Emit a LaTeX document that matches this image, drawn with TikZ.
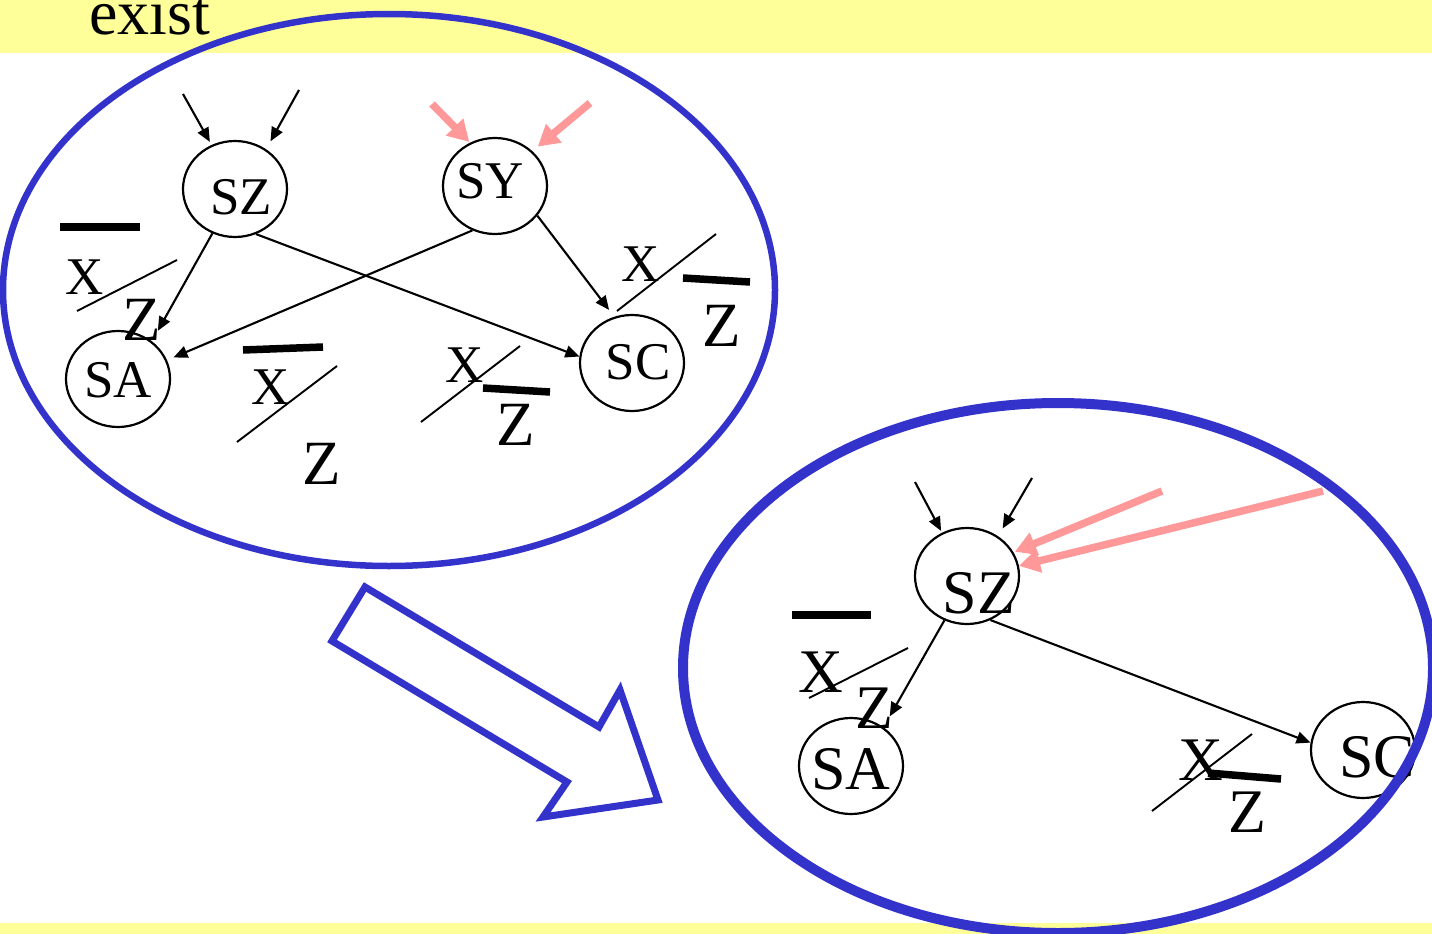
\documentclass[tikz,border=0pt]{standalone}
\usepackage{fontspec}
\setmainfont{Liberation Serif}
\usetikzlibrary{arrows.meta,shapes.geometric}
\definecolor{bandyellow}{HTML}{FFFF99}
\definecolor{ellblue}{HTML}{3333CC}
\definecolor{pinkred}{HTML}{FF9999}
\tikzset{
  circ/.style={draw, ellipse, minimum width=104pt, minimum height=96pt, line width=2.2pt, inner sep=0pt},
  lblA/.style={inner sep=0pt, font=\fontsize{53}{53}\selectfont},
  lblZ/.style={inner sep=0pt, font=\fontsize{63}{63}\selectfont},
  lblB/.style={inner sep=0pt, font=\fontsize{62}{62}\selectfont},
  conn/.style={line width=2.1pt, -{Triangle[length=14pt,width=12pt]}},
  redarr/.style={draw=pinkred, line width=7.5pt, -{Triangle[length=21pt,width=23pt]}},
  slashline/.style={line width=1.9pt},
  obar/.style={line width=7.5pt},
  bigell/.style={draw=ellblue},
}
\begin{document}
\begin{tikzpicture}[x=1pt,y=-1pt]
\useasboundingbox (0,0) rectangle (1432,934);
\fill[white] (0,0) rectangle (1432,934);
% yellow bands
\fill[bandyellow] (0,0) rectangle (1432,53);
\fill[bandyellow] (0,923) rectangle (1432,934);
\node[anchor=base west, inner sep=0pt, font=\fontsize{64}{64}\selectfont] (exist) at (89,35) {exist};

% ---------- first ellipse contents ----------
\node[circ] (sz1) at (235,189) {};
\node[circ] (sy1) at (495,186) {};
\node[circ] (sa1) at (118,379) {};
\node[circ] (sc1) at (632,363) {};
\node[lblA] (tsz1) at (241,197) {SZ};
\node[lblA] (tsy1) at (490,181) {SY};
\node[lblA] (tsa1) at (118,380) {SA};
\node[lblA] (tsc1) at (638,362) {SC};

\coordinate (in1a) at (183,94);
\coordinate (in1b) at (299,90);
\coordinate (rin1a) at (432,104);
\coordinate (rin1b) at (590,103);
\draw[conn, shorten >=3.5pt] (in1a) -- (sz1.118);
\draw[conn, shorten >=9pt] (in1b) -- (sz1.52);
\draw[redarr, shorten >=1pt] (rin1a) -- (sy1.120);
\draw[redarr, shorten >=7pt] (rin1b) -- (sy1.43);

\draw[conn, shorten >=12pt] (sz1.243) -- (sa1.48);
\draw[conn] (sz1.295) -- (sc1.173);
\draw[conn, shorten >=7pt] (sy1.243) -- (sa1.21);
\draw[conn, shorten >=8.5pt] (sy1.325) -- (sc1.111);

% labels group 1
\draw[obar] (60,227) -- (140,227);
\node[lblA] (x1) at (85,277) {X};
\draw[slashline] (77,311) -- (177,260);
\node[lblZ] (z1) at (142,320) {Z};
% group 2
\draw[obar] (243,350) -- (323,347);
\node[lblA] (x2) at (271,387) {X};
\draw[slashline] (237,442) -- (337,366);
\node[lblZ] (z2) at (322,464) {Z};
% group 3
\node[lblA] (x3) at (465,365) {X};
\draw[slashline] (421,422) -- (520,346);
\draw[obar] (483,388) -- (550,392);
\node[lblZ] (z3) at (516,425) {Z};
% group 4
\node[lblA] (x4) at (641,264) {X};
\draw[slashline] (617,311) -- (716,234);
\draw[obar] (683,278) -- (750,282);
\node[lblZ] (z4) at (722,326) {Z};

% ---------- big hollow arrow ----------
\draw[draw=ellblue, line width=7pt, line join=miter] (365,587) -- (599,727) -- (620,690) -- (658,800) -- (543,817) -- (567,782) -- (332,641) -- cycle;

% ---------- second ellipse contents ----------
\node[circ] (sz2) at (967,576) {};
\node[circ] (sa2) at (851,766) {};
\node[circ] (sc2) at (1363,750) {};
\node[lblB] (tsz2) at (979,593) {SZ};
\node[lblB] (tsa2) at (851,769) {SA};
\node[lblB] (tsc2) at (1377,757) {SC};

\coordinate (in2a) at (915,482);
\coordinate (in2b) at (1032,478);
\coordinate (rin2a) at (1162,491);
\coordinate (rin2b) at (1323,491);
\draw[conn, shorten >=2pt] (in2a) -- (sz2.120);
\draw[conn, shorten >=9pt] (in2b) -- (sz2.52);
\draw[redarr, shorten >=1.5pt] (rin2a) -- (sz2.27);
\draw[redarr] (rin2b) -- (sz2.11);

\draw[conn, shorten >=12.5pt] (sz2.243) -- (sa2.50);
\draw[conn] (sz2.298) -- (sc2.172);

% labels group A
\draw[obar] (792,615) -- (871,615);
\node[lblB] (xa) at (821,672) {X};
\draw[slashline] (809,698) -- (908,648);
\node[lblB] (za) at (874,708) {Z};
% group B
\node[lblB] (xb) at (1201,760) {X};
\draw[slashline] (1152,811) -- (1252,734);
\draw[obar] (1208,773) -- (1281,779);
\node[lblB] (zb) at (1247,812) {Z};

% ---------- big ellipses ----------
\draw[bigell, line width=6.5pt] (389,290) ellipse [x radius=386, y radius=276];
\draw[bigell, line width=10pt] (1058,668) ellipse [x radius=375, y radius=265];
\end{tikzpicture}
\end{document}
